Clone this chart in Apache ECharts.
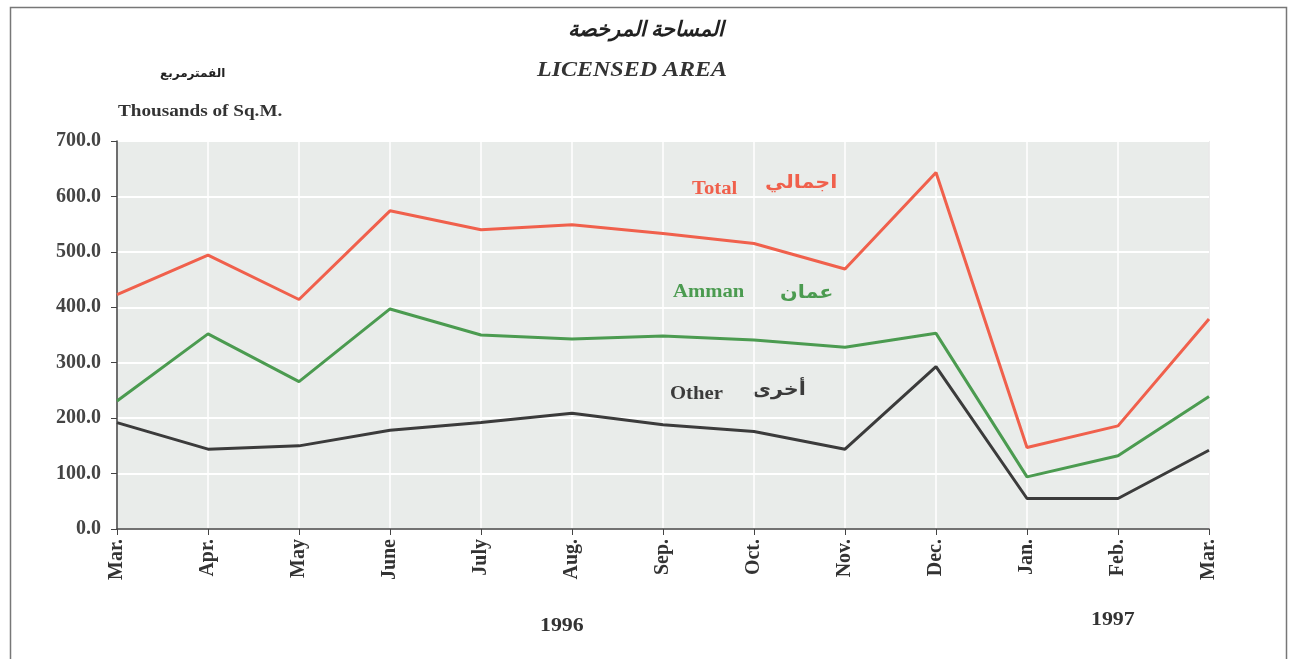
<!DOCTYPE html>
<html>
<head>
<meta charset="utf-8">
<script src="https://cdn.jsdelivr.net/npm/echarts@6/dist/echarts.min.js"></script>
<style>
html, body { margin: 0; padding: 0; background: #fff; }
#chart { width: 1293px; height: 659px; }
</style>
</head>
<body>
<div id="chart"></div>
<script>
// months, Mar 1996 .. Mar 1997
var months = ["Mar.", "Apr.", "May", "June", "July", "Aug.", "Sep.", "Oct.", "Nov.", "Dec.", "Jan.", "Feb.", "Mar."];
var totalArea = [423, 494, 414, 574, 540, 549, 533, 515, 469, 643, 147, 186, 379];
var ammanArea = [231, 352, 266, 397, 350, 343, 348, 341, 328, 353, 94, 132, 239];
var otherArea = [192, 144, 150, 178, 192, 209, 188, 176, 144, 293, 55, 55, 142];
var yTicks = [0, 100, 200, 300, 400, 500, 600, 700];

var serif = '"Liberation Serif", "DejaVu Serif", "DejaVu Sans", serif';
var cRed = "#f0604c", cGreen = "#4b9b50", cDark = "#3b3b3b";

var myChart = echarts.init(document.getElementById("chart"));

function lineSeries(name, data, color) {
    return {
        name: name,
        type: "line",
        data: data,
        symbol: "none",
        lineStyle: { color: color, width: 3 },
        itemStyle: { color: color },
        animation: false
    };
}

// the scan is a bit stretched sideways, so texts get a small scaleX
function txt(x, y, text, opt, sx) {
    return {
        type: "text",
        left: x,
        top: y,
        scaleX: sx || 1.15,
        style: Object.assign({
            text: text,
            font: "bold 18px " + serif,
            fill: "#333"
        }, opt || {})
    };
}

var option = {
    backgroundColor: "#fff",
    grid: {
        left: 117, right: 84, top: 141, bottom: 130,
        show: true,
        backgroundColor: "#e9ecea",
        borderColor: "#666",
        borderWidth: 1
    },
    xAxis: {
        type: "category",
        boundaryGap: false,
        data: months,
        axisLine: { lineStyle: { color: "#444", width: 1.5 } },
        axisTick: { show: true, length: 6, lineStyle: { color: "#444" } },
        axisLabel: {
            rotate: 90,
            margin: 10,
            color: "#333",
            fontFamily: serif,
            fontWeight: "bold",
            fontSize: 20
        },
        splitLine: { show: true, lineStyle: { color: "#ffffff", width: 1.5 } }
    },
    yAxis: {
        type: "value",
        min: yTicks[0],
        max: yTicks[yTicks.length - 1],
        interval: 100,
        axisLine: { show: true, lineStyle: { color: "#444", width: 1.5 } },
        axisTick: { show: true, length: 6, lineStyle: { color: "#444" } },
        axisLabel: {
            margin: 16,
            color: "#444",
            fontFamily: serif,
            fontWeight: "bold",
            fontSize: 20,
            formatter: function (v) { return v.toFixed(1); }
        },
        splitLine: { show: true, lineStyle: { color: "#ffffff", width: 2 } }
    },
    series: [
        lineSeries("Total", totalArea, cRed),
        lineSeries("Amman", ammanArea, cGreen),
        lineSeries("Other", otherArea, cDark)
    ],
    graphic: [
        { type: "rect", left: 8, top: 5, shape: { width: 1276, height: 660 },
          style: { fill: "none", stroke: "#777", lineWidth: 1.5 }, silent: true },
        txt(568, 20, "المساحة المرخصة", { font: "italic bold 21px " + serif, fill: "#222" }, 1),
        txt(537, 61, "LICENSED AREA", { font: "italic bold 20px " + serif, fill: "#333" }, 1.2),
        txt(160, 68, "الفمترمربع", { font: "bold 12px " + serif, fill: "#222" }, 1),
        txt(118, 104, "Thousands of Sq.M.", { font: "bold 16px " + serif, fill: "#333" }, 1.2),
        txt(692, 180, "Total", { fill: cRed }),
        txt(765, 174, "اجمالي", { fill: cRed }),
        txt(673, 283, "Amman", { fill: cGreen }),
        txt(780, 284, "عمان", { fill: cGreen }),
        txt(670, 385, "Other", { fill: cDark }),
        txt(752, 381, "أخرى", { fill: cDark }),
        txt(540, 617, "1996", { font: "bold 19px " + serif, fill: "#333" }),
        txt(1091, 611, "1997", { font: "bold 19px " + serif, fill: "#333" })
    ]
};
myChart.setOption(option, true);
</script>
</body>
</html>
